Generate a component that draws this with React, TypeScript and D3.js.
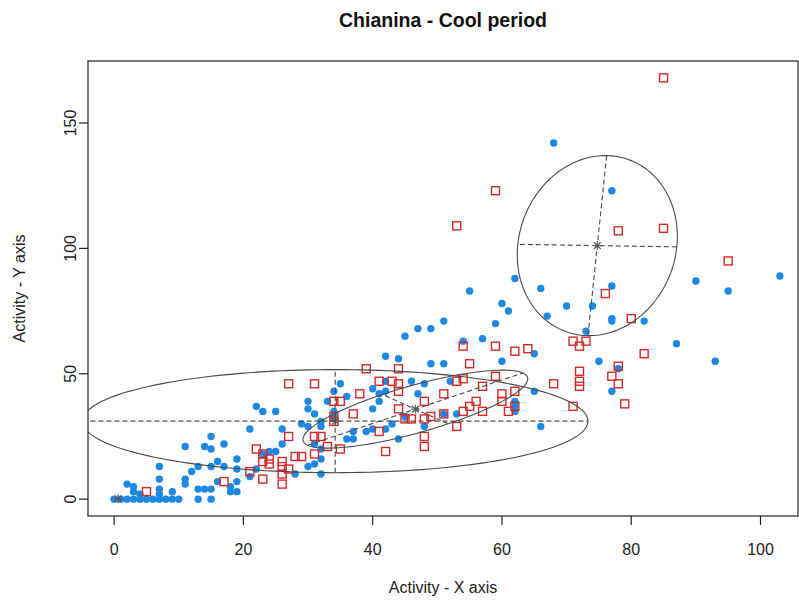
import React from 'react';
import * as d3 from 'd3';

const W = 799;
const H = 601;
const PLOT = { left: 88, right: 798, top: 61, bottom: 516 };

const title = 'Chianina - Cool period';
const xLabel = 'Activity - X axis';
const yLabel = 'Activity - Y axis';

const xTicks = [0, 20, 40, 60, 80, 100];
const yTicks = [0, 50, 100, 150];
const xDomain = [-4.04, 105.8];
const yDomain = [-6.72, 174.72];

// Group 1: blue filled circles
const blueX = [0, 1, 2, 3, 4, 5, 6, 7, 8, 9, 10, 13, 15,
  2, 3, 3, 4, 7, 7, 7, 7, 9, 11, 11, 11, 12, 13, 13, 14, 14, 15, 15, 15, 15, 16, 16, 17, 17, 18, 18,
  19, 19, 19, 19, 21, 21, 22, 22, 23, 25, 23, 24, 25, 26, 26, 28, 29, 30, 30, 30, 30, 31, 31, 31,
  32, 32, 32, 32, 32, 33, 34, 35, 36, 34, 34, 36, 37, 37, 39, 40, 40, 41, 41, 40, 42, 42, 42, 42,
  43, 44, 44, 45, 45, 46, 47, 47, 48, 48, 49, 49, 51, 51, 51, 52, 53, 54, 55, 57, 59, 60, 60, 61,
  62, 62, 62, 62, 65, 65, 66, 66, 67, 68, 70, 73, 74, 75, 77, 77, 77, 77, 77, 78, 82, 87, 90, 93, 95, 103];
const blueY = [0, 0, 0, 0, 0, 0, 0, 0, 0, 0, 0, 0, 0,
  6, 5, 3, 2, 13, 8, 4, 2, 3, 21, 8, 6, 11, 13, 4, 4, 21, 20, 13, 4, 25, 15, 7, 22, 13, 5, 3,
  16, 12, 7, 3, 9, 28, 12, 37, 35, 35, 18, 19, 19, 22, 28, 10, 30, 29, 39, 36, 13, 34, 22, 14,
  16, 10, 29, 31, 20, 39, 43, 46, 41, 35, 33, 24, 24, 27, 27, 28, 44, 42, 39, 36, 57, 47, 43, 28,
  30, 56, 24, 65, 33, 47, 68, 42, 46, 29, 68, 54, 71, 54, 34, 47, 34, 63, 83, 64, 70, 78, 55, 75,
  88, 39, 37, 35, 58, 43, 84, 29, 73, 142, 77, 67, 77, 55, 85, 72, 71, 43, 123, 52, 71, 62, 87, 55, 83, 89];

// Group 2: red open squares
const redX = [85, 59, 53, 78, 85, 95, 80, 76, 71, 73, 72, 62, 64, 82, 72, 78, 77, 72, 72, 68, 78, 79,
  71, 62, 60, 60, 62, 61, 54, 59, 55, 39, 44, 41, 43, 44, 44, 38, 53, 54, 59, 57, 51, 56, 55, 54, 57,
  48, 44, 37, 34, 35, 34, 34, 45, 46, 48, 49, 51, 53, 41, 48, 48, 32, 33, 35, 42, 27, 31, 27, 31, 31,
  22, 23, 23, 24, 24, 26, 26, 27, 26, 26, 28, 29, 21, 23, 17, 5];
const redY = [168, 123, 109, 107, 108, 95, 72, 82, 63, 63, 61, 59, 60, 58, 51, 53, 49, 47, 45, 46, 46, 38,
  37, 43, 42, 39, 37, 35, 61, 61, 54, 52, 52, 47, 47, 46, 43, 42, 47, 48, 49, 45, 42, 39, 37, 35, 35,
  39, 36, 34, 39, 39, 33, 31, 32, 32, 32, 33, 34, 29, 27, 25, 21, 25, 21, 20, 19, 46, 46, 25, 25, 18,
  20, 18, 15, 16, 14, 15, 13, 12, 10, 6, 17, 17, 11, 8, 7, 3];

// Cluster ellipses (data units): centre, semi-axes, orientation in degrees
const ellCx = [34.2, 46.6, 74.75];
const ellCy = [31.1, 35.9, 101.1];
const ellA = [39.1, 22.0, 35.93];
const ellB = [20.55, 7.76, 12.31];
const ellAngle = [0, 40.9, 87.7];
// cluster centres (asterisks)
const centerX = [0.6, 34.2, 46.6, 74.75];
const centerY = [0.2, 31.1, 35.9, 101.1];

const BLUE = '#1E88E5';
const RED = '#D42A2A';
const LINE = '#4a4a4a';
const FONT = '"Liberation Sans", Arial, sans-serif';

export default function App() {
  const x = d3.scaleLinear().domain(xDomain).range([PLOT.left, PLOT.right]);
  const y = d3.scaleLinear().domain(yDomain).range([PLOT.bottom, PLOT.top]);

  const blue = blueX.map((v, i) => [v, blueY[i]]);
  const red = redX.map((v, i) => [v, redY[i]]);

  const line = d3.line<[number, number]>().x(d => x(d[0])).y(d => y(d[1])).curve(d3.curveLinearClosed);

  const ellipses = ellCx.map((cx, i) => {
    const th = (ellAngle[i] * Math.PI) / 180;
    const a = ellA[i], b = ellB[i], cy = ellCy[i];
    const pts: [number, number][] = d3.range(0, 2 * Math.PI, Math.PI / 90).map(t => [
      cx + a * Math.cos(t) * Math.cos(th) - b * Math.sin(t) * Math.sin(th),
      cy + a * Math.cos(t) * Math.sin(th) + b * Math.sin(t) * Math.cos(th),
    ]);
    const u1 = [Math.cos(th), Math.sin(th)];
    const u2 = [-Math.sin(th), Math.cos(th)];
    const ax1 = [[cx - a * u1[0], cy - a * u1[1]], [cx + a * u1[0], cy + a * u1[1]]];
    const ax2 = [[cx - b * u2[0], cy - b * u2[1]], [cx + b * u2[0], cy + b * u2[1]]];
    return { path: line(pts), ax1, ax2 };
  });

  const sq = 8;
  const star = 4.5;

  return (
    <svg width={W} height={H} style={{ position: 'absolute', left: 0, top: 0, background: '#fff' }} fontFamily={FONT}>
      <defs>
        <clipPath id="plotclip">
          <rect x={PLOT.left} y={PLOT.top} width={PLOT.right - PLOT.left} height={PLOT.bottom - PLOT.top} />
        </clipPath>
      </defs>
      <rect x={0} y={0} width={W} height={H} fill="#fff" />
      <text x={(PLOT.left + PLOT.right) / 2} y={27} textAnchor="middle" fontWeight="bold" fontSize={19.5} fill="#111">{title}</text>

      <g clipPath="url(#plotclip)">
        {blue.map((d, i) => (
          <circle key={'b' + i} cx={x(d[0])} cy={y(d[1])} r={3.7} fill={BLUE} />
        ))}
        {red.map((d, i) => (
          <rect key={'r' + i} x={x(d[0]) - sq / 2} y={y(d[1]) - sq / 2} width={sq} height={sq} fill="none" stroke={RED} strokeWidth={1.4} />
        ))}
        {ellipses.map((e, i) => (
          <g key={'e' + i}>
            <path d={e.path || ''} fill="none" stroke={LINE} strokeWidth={1.1} />
            {[e.ax1, e.ax2].map((ax, j) => (
              <line key={j} x1={x(ax[0][0])} y1={y(ax[0][1])} x2={x(ax[1][0])} y2={y(ax[1][1])} stroke={LINE} strokeWidth={1.1} strokeDasharray="5,3" />
            ))}
          </g>
        ))}
        {centerX.map((cx, i) => {
          const px = x(cx), py = y(centerY[i]);
          return (
            <g key={'c' + i} stroke="#555" strokeWidth={1.1}>
              <line x1={px - star} y1={py} x2={px + star} y2={py} />
              <line x1={px} y1={py - star} x2={px} y2={py + star} />
              <line x1={px - star * 0.75} y1={py - star * 0.75} x2={px + star * 0.75} y2={py + star * 0.75} />
              <line x1={px - star * 0.75} y1={py + star * 0.75} x2={px + star * 0.75} y2={py - star * 0.75} />
            </g>
          );
        })}
      </g>

      <rect x={PLOT.left} y={PLOT.top} width={PLOT.right - PLOT.left} height={PLOT.bottom - PLOT.top} fill="none" stroke="#222" strokeWidth={1.2} />

      {xTicks.map(t => (
        <g key={'xt' + t}>
          <line x1={x(t)} x2={x(t)} y1={PLOT.bottom} y2={PLOT.bottom + 9} stroke="#222" strokeWidth={1.2} />
          <text x={x(t)} y={555} textAnchor="middle" fontSize={16} fill="#222">{t}</text>
        </g>
      ))}
      {yTicks.map(t => (
        <g key={'yt' + t}>
          <line x1={PLOT.left} x2={PLOT.left - 9} y1={y(t)} y2={y(t)} stroke="#222" strokeWidth={1.2} />
          <text transform={`translate(76, ${y(t)}) rotate(-90)`} textAnchor="middle" fontSize={16} fill="#222">{t}</text>
        </g>
      ))}
      <text x={(PLOT.left + PLOT.right) / 2} y={593} textAnchor="middle" fontSize={16} fill="#222">{xLabel}</text>
      <text transform={`translate(25, ${(PLOT.top + PLOT.bottom) / 2}) rotate(-90)`} textAnchor="middle" fontSize={16} fill="#222">{yLabel}</text>
    </svg>
  );
}
